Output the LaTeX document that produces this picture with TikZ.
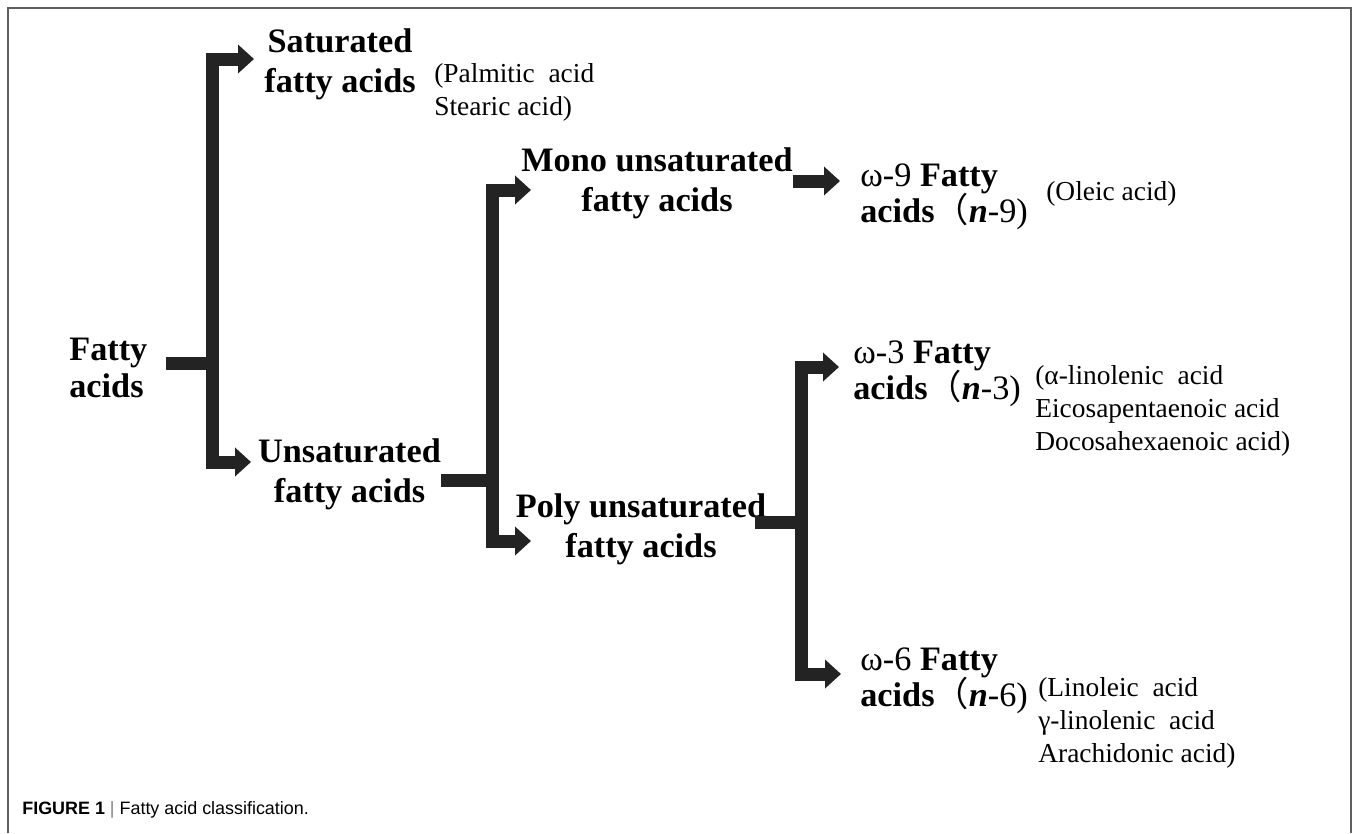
\documentclass[tikz,border=0pt]{standalone}
\usepackage{fontspec}
\setmainfont{Liberation Serif}
\newfontfamily\cjk{Noto Sans CJK SC}
\newfontfamily\capfont{Liberation Sans}
\usetikzlibrary{arrows.meta}
\definecolor{bardark}{RGB}{35,35,35}
\definecolor{framegray}{RGB}{95,95,95}
\tikzset{
  bar/.style={draw=bardark,line width=0.26cm},
  branch/.style={bar,-{Triangle[width=0.56cm,length=0.32cm]}},
  title/.style={font=\bfseries\fontsize{19.5}{23}\selectfont,align=center,inner sep=0pt},
  omega/.style={font=\bfseries\fontsize{19.5}{21}\selectfont,align=left,inner sep=0pt},
  examples/.style={font=\fontsize{15.6}{18.7}\selectfont,align=left,inner sep=0pt}
}

\begin{document}
\begin{tikzpicture}[x=0.02cm,y=-0.02cm]
        \useasboundingbox (0,0) rectangle (1357,833);
        \draw[framegray,line width=1pt] (8,833) -- (8,8) -- (1351,8) -- (1351,833);

        \coordinate (j1) at (212,363);
        \coordinate (j2) at (492,480);
        \coordinate (j3) at (801,522);

        \coordinate (tsat) at (254,59);
        \coordinate (tunsat) at (251,462);
        \coordinate (tmono) at (531,190);
        \coordinate (tpoly) at (531,541);
        \coordinate (tw9) at (840,181);
        \coordinate (tw3) at (839,367);
        \coordinate (tw6) at (841,674);

        \node[omega,anchor=north west] (fa) at (69,338) {Fatty\\acids};
        \node[title,anchor=north] (sat) at (340,28) {Saturated\\fatty acids};
        \node[examples,anchor=north west] (satex) at (434,63) {(Palmitic\ \ acid\\Stearic acid)};
        \node[title,anchor=north] (unsat) at (349.5,438) {Unsaturated\\fatty acids};
        \node[title,anchor=north] (mono) at (657,147) {Mono unsaturated\\fatty acids};
        \node[title,anchor=north] (poly) at (641,493) {Poly unsaturated\\fatty acids};
        \node[omega,anchor=north west] (w9) at (860,163) {{\mdseries ω-9} Fatty\\acids{\cjk\mdseries （}\textit{n}{\mdseries -9)}};
        \node[examples,anchor=north west] (w9ex) at (1046,181) {(Oleic acid)};
        \node[omega,anchor=north west] (w3) at (853,340) {{\mdseries ω-3} Fatty\\acids{\cjk\mdseries （}\textit{n}{\mdseries -3)}};
        \node[examples,anchor=north west] (w3ex) at (1035,365) {(α-linolenic\ \ acid\\Eicosapentaenoic acid\\Docosahexaenoic acid)};
        \node[omega,anchor=north west] (w6) at (860,647) {{\mdseries ω-6} Fatty\\acids{\cjk\mdseries （}\textit{n}{\mdseries -6)}};
        \node[examples,anchor=north west] (w6ex) at (1038,677) {(Linoleic\ \ acid\\γ-linolenic\ \ acid\\Arachidonic acid)};
        \node[font=\capfont\fontsize{10.2}{12}\selectfont,anchor=base west,inner sep=0pt] (caption) at (22,814) {\textbf{FIGURE 1} {\color{gray}|} Fatty acid classification.};

        \draw[bar,shorten <=0.36cm] (fa.east |- j1) -- (j1);
        \draw[branch] (j1) |- (tsat);
        \draw[branch] (j1) |- (tunsat);
        \draw[bar] (unsat.east |- j2) -- (j2);
        \draw[branch] (j2) |- (tmono);
        \draw[branch] (j2) |- (tpoly);
        \draw[branch] (mono.east |- tw9) -- (tw9);
        \draw[bar,shorten <=-0.23cm] (poly.east |- j3) -- (j3);
        \draw[branch] (j3) |- (tw3);
        \draw[branch] (j3) |- (tw6);
\end{tikzpicture}
\end{document}
